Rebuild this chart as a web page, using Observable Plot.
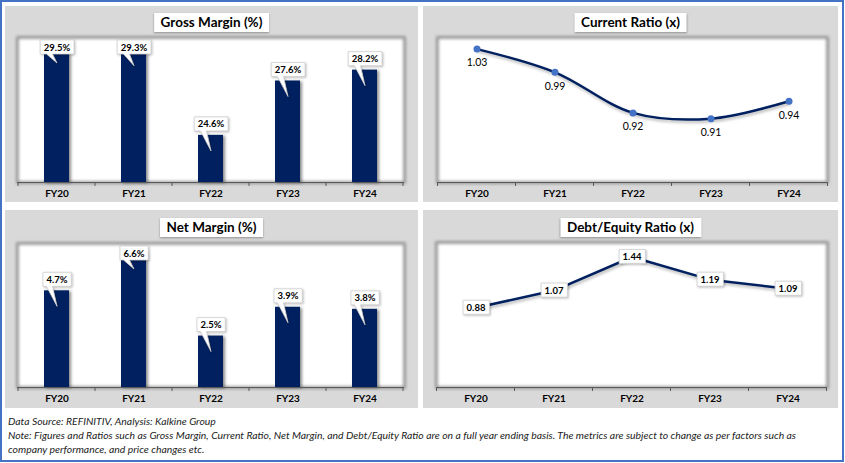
<!DOCTYPE html>
<html><head><meta charset="utf-8">
<script src="https://cdn.jsdelivr.net/npm/d3@7"></script>
<script src="https://cdn.jsdelivr.net/npm/@observablehq/plot@0.6"></script>
<style>
html,body{margin:0;padding:0;background:#fff;}
#wrap{position:relative;width:844px;height:462px;border:2px solid #4472c4;box-sizing:border-box;font-family:Lato,sans-serif;overflow:hidden;background:#fff;}
.panel{position:absolute;background:#d9d9d9;}
.panel svg{display:block;overflow:visible;}
.ttl{position:absolute;left:50%;transform:translateX(-50%);background:#fff;font-family:Lato,sans-serif;font-weight:bold;font-size:13.5px;line-height:15px;padding:2px 7px;white-space:nowrap;box-shadow:0 1px 2px rgba(0,0,0,.35);color:#000;z-index:2}
.note{position:absolute;left:6px;top:412px;font-family:Lato,sans-serif;font-style:italic;font-size:10.4px;line-height:14px;color:#222;white-space:nowrap}
svg [aria-label="x-axis tick label"] text{font-weight:bold;}
</style></head>
<body>
<div id="wrap">
  <div class="panel" id="p1" style="left:3px;top:4px;width:413px;height:196px"><div class="ttl" style="top:7px">Gross Margin (%)</div></div>
  <div class="panel" id="p2" style="left:421px;top:4px;width:415px;height:196px"><div class="ttl" style="top:7px">Current Ratio (x)</div></div>
  <div class="panel" id="p3" style="left:3px;top:208px;width:413px;height:198px"><div class="ttl" style="top:8px">Net Margin (%)</div></div>
  <div class="panel" id="p4" style="left:421px;top:208px;width:415px;height:198px"><div class="ttl" style="top:8px">Debt/Equity Ratio (x)</div></div>
  <div class="note">Data Source: REFINITIV, Analysis: Kalkine Group<br>Note: Figures and Ratios such as Gross Margin, Current Ratio, Net Margin, and Debt/Equity Ratio are on a full year ending basis. The metrics are subject to change as per factors such as<br>company performance, and price changes etc.</div>
</div>
<script>
const categories = ["FY20", "FY21", "FY22", "FY23", "FY24"];
const grossMargin = [29.5, 29.3, 24.6, 27.6, 28.2];
const currentRatio = [1.03, 0.99, 0.92, 0.91, 0.94];
const netMargin = [4.7, 6.6, 2.5, 3.9, 3.8];
const debtEquity = [0.88, 1.07, 1.44, 1.19, 1.09];
const grossDomain = [22, 30];
const netDomain = [0, 7];
const currentDomain = [0.8, 1.05];
const debtDomain = [0, 1.6];

const NAVY = "#002060", DOT = "#4472c4";
const NS = "http://www.w3.org/2000/svg";
const rows = vals => categories.map((c, i) => ({cat: c, v: vals[i]}));

function frameMarks() {
  return [
    Plot.frame({fill: "white"}),
    Plot.frame({stroke: "#8a8a8a", strokeWidth: 2.5, imageFilter: "blur(1.6px)"})
  ];
}
function axisMarks(domain) {
  return [
    Plot.ruleY([domain[0]], {stroke: "#595959", strokeWidth: 1}),
    Plot.axisX({tickSize: 0, tickPadding: 7, fontSize: 10, fontWeight: "bold", fill: "black", label: null})
  ];
}
function xScale() {
  return {type: "band", domain: categories, paddingInner: 0.68, paddingOuter: 0.34, label: null};
}
function el(tag, attrs) {
  const e = document.createElementNS(NS, tag);
  for (const k in attrs) e.setAttribute(k, attrs[k]);
  return e;
}
function gbox(t) {
  const b = t.getBBox(), m = t.getCTM();
  return {x: m.e + b.x, y: m.f + b.y, w: b.width, h: b.height};
}
function shiftText(t, dy) {
  const c = t.transform.baseVal.consolidate();
  if (c) { const m = c.matrix; t.setAttribute("transform", `translate(${m.e},${m.f + dy})`); }
  else t.setAttribute("transform", `translate(0,${dy})`);
}
function scaleInfo(chart) {
  const sx = chart.scale("x"), sy = chart.scale("y");
  const bw = sx.bandwidth || 0;
  const step = sx.apply(categories[1]) - sx.apply(categories[0]);
  const top = Math.min(...sy.range), bottom = Math.max(...sy.range);
  return {sx, sy, bw, step, top, bottom};
}
function drawTicks(chart) {
  const {sx, bw, step, bottom} = scaleInfo(chart);
  const g = el("g", {stroke: "#595959", "stroke-width": 1});
  const xs = categories.map(c => sx.apply(c) + bw / 2 - step / 2);
  xs.push(sx.apply(categories[categories.length - 1]) + bw / 2 + step / 2);
  xs.forEach(x => g.appendChild(el("line", {x1: x, x2: x, y1: bottom, y2: bottom + 4})));
  chart.appendChild(g);
}
function boxes(chart, data, withTail) {
  const {sx, sy, bw, top} = scaleInfo(chart);
  const tg = chart.querySelector('g[aria-label="text"]');
  const layer = el("g", {});
  tg.parentNode.insertBefore(layer, tg);
  tg.querySelectorAll("text").forEach((t, i) => {
    const padX = 3.5, padY = 1.5;
    let b = gbox(t);
    if (b.y - padY < top + 3) { shiftText(t, top + 3 - (b.y - padY)); b = gbox(t); }
    const L = b.x - padX, R = b.x + b.w + padX, T = b.y - padY, B = b.y + b.h + padY;
    let d;
    if (withTail) {
      const cx = sx.apply(data[i].cat) + bw / 2;
      const tip = Math.max(sy.apply(data[i].v) + 16, B + 9);
      d = `M${L},${T}H${R}V${B}H${cx - 4}L${cx + 0.5},${tip}L${cx - 10},${B}H${L}Z`;
    } else {
      d = `M${L},${T}H${R}V${B}H${L}Z`;
    }
    layer.appendChild(el("path", {d, fill: "white", stroke: "#cfcfcf", "stroke-width": 0.8,
      style: "filter: drop-shadow(1px 1px 1px rgba(0,0,0,0.25))"}));
  });
}

function barChart(id, vals, domain, m) {
  const host = document.getElementById(id);
  const data = rows(vals);
  const chart = Plot.plot({
    width: host.clientWidth, height: host.clientHeight,
    marginTop: m[0], marginRight: m[1], marginBottom: m[2], marginLeft: m[3],
    style: {background: "transparent", fontFamily: "Lato, sans-serif", color: "black", overflow: "visible"},
    x: xScale(),
    y: {domain, axis: null},
    marks: [
      ...frameMarks(),
      Plot.barY(data, {x: "cat", y1: domain[0], y2: "v", fill: NAVY,
        imageFilter: "drop-shadow(2px 1px 1.5px rgba(0,0,0,0.45))"}),
      ...axisMarks(domain),
      Plot.text(data, {x: "cat", y: "v", text: d => d.v.toFixed(1) + "%", dy: -11,
        fontSize: 9.5, fontWeight: "bold", fill: "black"})
    ]
  });
  host.appendChild(chart);
  drawTicks(chart);
  boxes(chart, data, true);
}

function lineChart(id, vals, domain, m, opts) {
  const host = document.getElementById(id);
  const data = rows(vals);
  const marks = [
    ...frameMarks(),
    ...axisMarks(domain),
    Plot.line(data, {x: "cat", y: "v", stroke: NAVY, strokeWidth: 2.5, curve: opts.curve,
      imageFilter: "drop-shadow(1px 2px 1.5px rgba(0,0,0,0.3))"})
  ];
  if (opts.dots) marks.push(Plot.dot(data, {x: "cat", y: "v", r: 3.5, fill: DOT}));
  marks.push(Plot.text(data, {x: "cat", y: "v", text: d => d.v.toFixed(2), dy: opts.dy,
    fontSize: opts.fontSize, fontWeight: opts.fontWeight, fill: "black"}));
  const chart = Plot.plot({
    width: host.clientWidth, height: host.clientHeight,
    marginTop: m[0], marginRight: m[1], marginBottom: m[2], marginLeft: m[3],
    style: {background: "transparent", fontFamily: "Lato, sans-serif", color: "black", overflow: "visible"},
    x: xScale(),
    y: {domain, axis: null},
    marks
  });
  host.appendChild(chart);
  drawTicks(chart);
  if (opts.boxes) boxes(chart, data, false);
}

barChart("p1", grossMargin, grossDomain, [31, 14, 20, 12]);
lineChart("p2", currentRatio, currentDomain, [31, 11, 20, 14],
  {curve: "catmull-rom", dots: true, dy: 14, fontSize: 10.5, fontWeight: "normal", boxes: false});
barChart("p3", netMargin, netDomain, [33, 14, 21, 12]);
lineChart("p4", debtEquity, debtDomain, [32, 11, 21, 13],
  {curve: "linear", dots: false, dy: 0, fontSize: 9.5, fontWeight: "bold", boxes: true});
</script>
</body></html>
